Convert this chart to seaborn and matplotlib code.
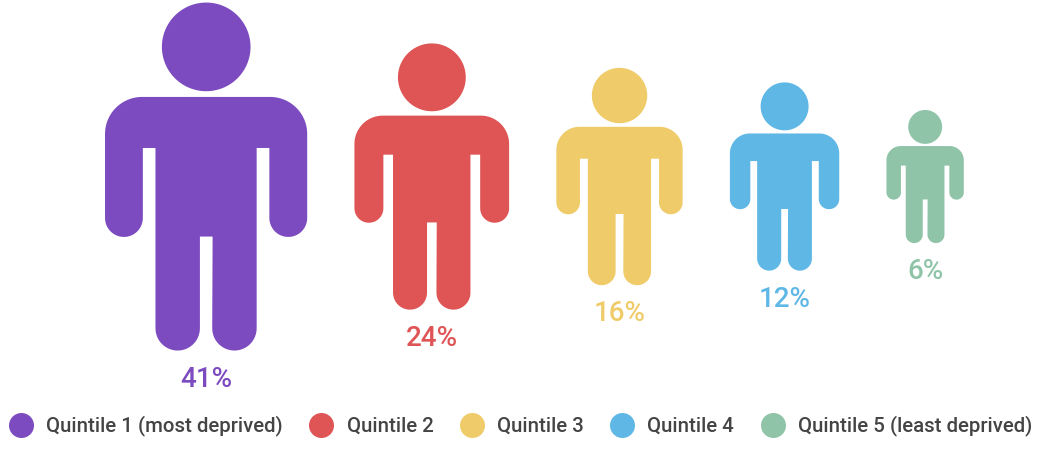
# Infografia de quintiles: figuras humanas cuya area es proporcional al porcentaje
import numpy as np
import pandas as pd
import seaborn as sns
import matplotlib.pyplot as plt
from matplotlib.lines import Line2D
from matplotlib.path import Path

# ------------------------------------------------------------------------------
# DATOS
# ------------------------------------------------------------------------------
quintiles = ['Quintile 1 (most deprived)', 'Quintile 2', 'Quintile 3', 'Quintile 4',
             'Quintile 5 (least deprived)']
percent = [41, 24, 16, 12, 6]
colors = ['#7C4BC0', '#DF5454', '#F0CB69', '#5FB7E6', '#8FC4A8']

DPI = 100
TEXT_COLOR = '#444444'
PX_PER_SQRT = 54.35   # altura del icono en px por raiz del porcentaje
GAP = 47.2            # separacion horizontal entre iconos
LEFT = 105
MID_Y = 176.5


def arc(cx, cy, r, start, end, n=24):
    t = np.radians(np.linspace(start, end, n))
    return np.column_stack([cx + r * np.cos(t), cy + r * np.sin(t)])


def person_marker():
    # Contorno medido sobre la figura grande (y hacia abajo), luego normalizado
    body = np.vstack([
        arc(142.2, 134, 37, 180, 270),       # hombro izq
        arc(270.2, 134, 37, 270, 360),       # hombro der
        arc(288.3, 218, 18.9, 0, 180),       # mano der
        [[269.4, 148], [256.7, 148]],        # axila der
        arc(234.5, 328.2, 22.2, 0, 180),     # pierna der
        [[212.7, 236.5], [200, 236.5]],      # entrepierna
        arc(177.8, 328.2, 22.2, 0, 180),     # pierna izq
        [[155.6, 148], [143, 148]],          # axila izq
        arc(124.1, 218, 18.9, 0, 180),       # mano izq
    ])
    head = arc(206.3, 47, 44.3, 0, 360, 72)
    outline = [Path(np.vstack([p, p[:1]]), closed=True) for p in (body, head)]
    path = Path.make_compound_path(*outline)
    verts = (path.vertices - [206.2, 176.5]) / 173.8 * [1, -1]
    return Path(verts, path.codes)


PERSON = person_marker()
ASPECT = np.ptp(PERSON.vertices[:, 0]) / np.ptp(PERSON.vertices[:, 1])

# ------------------------------------------------------------------------------
# TABLA: tamanos y posiciones salen del porcentaje
# ------------------------------------------------------------------------------
df = pd.DataFrame({'quintile': quintiles, 'percent': percent})
df['height'] = PX_PER_SQRT * np.sqrt(df['percent'])
df['width'] = df['height'] * ASPECT
df['left'] = LEFT + (df['width'] + GAP).cumsum().shift(fill_value=0)
df['x'] = df['left'] + df['width'] / 2
df['y'] = MID_Y
df['s'] = (df['height'] * 72 / DPI) ** 2

# ------------------------------------------------------------------------------
# GRAFICO
# ------------------------------------------------------------------------------
sns.set_theme(style='white')
plt.rcParams['font.family'] = ['Roboto', 'DejaVu Sans']

fig = plt.figure(figsize=(10.41, 4.5), dpi=DPI)
ax = fig.add_axes([0, 0, 1, 1])

sns.scatterplot(
    data=df, x='x', y='y', hue='quintile', palette=colors, hue_order=quintiles,
    size='percent', sizes=dict(zip(df['percent'], df['s'])),
    marker=PERSON, linewidth=0, edgecolor='none', alpha=1, legend=False, ax=ax
)

ax.set_xlim(0, 1041)
ax.set_ylim(450, 0)
ax.axis('off')

# Etiquetas de porcentaje debajo de cada figura
for row, color in zip(df.itertuples(), colors):
    ax.text(row.x, row.y + row.height / 2 + 28.5, f'{row.percent}%', color=color,
            fontsize=20, fontweight='medium', ha='center', va='center')

# Leyenda en una sola fila
handles = [Line2D([], [], linestyle='none', marker='o', markersize=18, markeredgewidth=0,
                  color=c) for c in colors]
fig.legend(handles, quintiles, ncol=5, loc='center', bbox_to_anchor=(520.3 / 1041, 1 - 426 / 450),
           frameon=False, labelcolor=TEXT_COLOR, handlelength=1.22,
           handletextpad=0.63, columnspacing=1.27, borderpad=0, borderaxespad=0,
           prop={'family': 'Roboto', 'weight': 'medium', 'size': 14.7})

fig.savefig('out.png', dpi=DPI)
